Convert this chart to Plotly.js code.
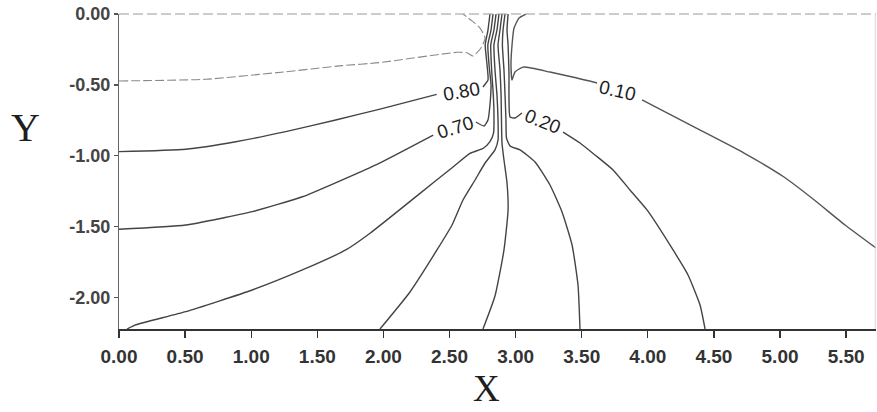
<!DOCTYPE html>
<html>
<head>
<meta charset="utf-8">
<script src="https://cdn.plot.ly/plotly-3.0.1.min.js"></script>
<style>
  html, body { margin: 0; padding: 0; background: #ffffff; }
  #chart { width: 877px; height: 412px; }
</style>
</head>
<body>
<div id="chart"></div>
<script>
// ---- contour levels ----
const levels = [0.9, 0.8, 0.7, 0.6, 0.5, 0.4, 0.3, 0.2, 0.1];

// each contour traced as x / y points (null = gap where the label sits)
const c90x = [0, 0.656, 1.261, 1.687, 1.967, 2.557, 2.632, 2.678, 2.738, 2.769, 2.731, 2.670, 2.602];
const c90y = [-0.472, -0.460, -0.407, -0.364, -0.343, -0.270, -0.273, -0.296, -0.240, -0.169, -0.099, -0.049, 0];

const c80x = [0, 0.505, 0.883, 1.261, 1.639, 1.967, 2.403, null, 2.753, 2.791, 2.784, 2.770, 2.791, 2.806];
const c80y = [-0.970, -0.953, -0.900, -0.829, -0.747, -0.672, -0.566, null, -0.514, -0.465, -0.359, -0.218, -0.113, 0];

const c70x = [0, 0.505, 1.008, 1.387, 1.715, 1.967, 2.377, null, 2.700, 2.761, 2.791, 2.806, 2.814, 2.799, 2.790, 2.814, 2.829];
const c70y = [-1.517, -1.487, -1.393, -1.288, -1.158, -1.052, -0.853, null, -0.761, -0.789, -0.747, -0.641, -0.500, -0.359, -0.218, -0.113, 0];

const c60x = [0.061, 0.121, 0.505, 1.008, 1.387, 1.715, 1.899, 2.277, 2.529, 2.655, 2.756, 2.806, 2.833, 2.836, 2.829, 2.821, 2.812, 2.836, 2.852];
const c60y = [-2.220, -2.192, -2.098, -1.945, -1.804, -1.663, -1.545, -1.264, -1.076, -0.982, -0.946, -0.900, -0.839, -0.677, -0.536, -0.430, -0.218, -0.113, 0];

const c50x = [1.974, 2.201, 2.405, 2.519, 2.602, 2.693, 2.769, 2.844, 2.867, 2.867, 2.859, 2.844, 2.836, 2.859, 2.874];
const c50y = [-2.220, -1.959, -1.663, -1.487, -1.311, -1.170, -1.050, -0.958, -0.888, -0.747, -0.571, -0.395, -0.218, -0.113, 0];

const c40x = [2.753, 2.844, 2.912, 2.943, 2.935, 2.912, 2.897, 2.893, 2.890, 2.882, 2.867, 2.882, 2.897];
const c40y = [-2.220, -1.987, -1.663, -1.381, -1.191, -1.029, -0.909, -0.747, -0.571, -0.395, -0.218, -0.113, 0];

const c30x = [3.487, 3.472, 3.427, 3.351, 3.260, 3.147, 3.033, 2.958, 2.931, 2.927, 2.920, 2.912, 2.900, 2.905, 2.920];
const c30y = [-2.220, -1.910, -1.628, -1.395, -1.205, -1.043, -0.958, -0.930, -0.874, -0.747, -0.571, -0.395, -0.218, -0.113, 0];

const c20x = [4.433, 4.395, 4.304, 4.191, 3.994, 3.865, 3.737, 3.601, 3.487, 3.359, null, 3.048, 2.995, 2.958, 2.950, 2.950, 2.943, 2.935, 2.943];
const c20y = [-2.220, -2.051, -1.839, -1.663, -1.381, -1.240, -1.099, -0.994, -0.909, -0.832, null, -0.698, -0.733, -0.726, -0.606, -0.430, -0.218, -0.113, 0];

const c10x = [5.726, 5.492, 5.250, 5.030, 4.728, 4.349, 3.956, null, 3.616, 3.464, 3.260, 3.056, 2.995, 2.973, 2.965, 2.973, 2.988, 3.026, 3.079];
const c10y = [-1.649, -1.487, -1.304, -1.149, -0.980, -0.796, -0.606, null, -0.486, -0.451, -0.409, -0.374, -0.409, -0.465, -0.359, -0.218, -0.099, -0.028, 0];

const contourX = [c90x, c80x, c70x, c60x, c50x, c40x, c30x, c20x, c10x];
const contourY = [c90y, c80y, c70y, c60y, c50y, c40y, c30y, c20y, c10y];

// labelled contours
const labelLevels = [0.8, 0.7, 0.2, 0.1];

// axes
const xTicks = [0, 0.5, 1, 1.5, 2, 2.5, 3, 3.5, 4, 4.5, 5, 5.5];
const xTickText = ['0.00', '0.50', '1.00', '1.50', '2.00', '2.50', '3.00', '3.50', '4.00', '4.50', '5.00', '5.50'];
const yTicks = [0, -0.5, -1, -1.5, -2];
const yTickText = ['0.00', '-0.50', '-1.00', '-1.50', '-2.00'];
const xRange = [0, 5.726];
const yRange = [-2.22, 0];

// ---- build traces ----
const traces = levels.map((lv, i) => ({
  type: 'scatter',
  mode: 'lines',
  name: lv.toFixed(2),
  x: contourX[i],
  y: contourY[i],
  connectgaps: false,
  line: {
    color: lv === 0.9 ? '#8a8a8a' : (lv === 0.1 ? '#555555' : '#444444'),
    width: lv === 0.9 ? 1.1 : 1.4,
    dash: lv === 0.9 ? '9px,3px' : 'solid',
    shape: 'spline',
    smoothing: 0.5
  },
  hoverinfo: 'skip',
  showlegend: false
}));

// label placement (position / angle per labelled level)
const labelPlace = {
  0.8: {x: 2.587, y: -0.543, a: -10},
  0.7: {x: 2.542, y: -0.803, a: -17},
  0.2: {x: 3.207, y: -0.761, a: 22},
  0.1: {x: 3.767, y: -0.536, a: 13}
};
const annotations = labelLevels.map(lv => ({
  x: labelPlace[lv].x, y: labelPlace[lv].y, xref: 'x', yref: 'y',
  text: lv.toFixed(2), showarrow: false, textangle: labelPlace[lv].a,
  font: {family: 'Liberation Sans, Arial, sans-serif', size: 19, color: '#1e1e1e'}
}));
annotations.push({
  xref: 'paper', yref: 'paper', x: (486 - 119) / 757, y: -(410 - 329) / 315,
  text: 'X', showarrow: false, xanchor: 'center', yanchor: 'bottom', borderpad: 0,
  font: {family: 'Liberation Serif, Times New Roman, serif', size: 37, color: '#1e1e1e'}
});
annotations.push({
  xref: 'paper', yref: 'paper', x: (25 - 119) / 757, y: 1 - (127 - 14) / 315,
  text: 'Y', showarrow: false, xanchor: 'center', yanchor: 'middle',
  font: {family: 'Liberation Serif, Times New Roman, serif', size: 40, color: '#1e1e1e'}
});

const layout = {
  width: 877, height: 412,
  margin: {l: 119, r: 1, t: 14, b: 83, pad: 0},
  paper_bgcolor: '#ffffff', plot_bgcolor: '#ffffff',
  showlegend: false,
  xaxis: {
    range: xRange, tickvals: xTicks, ticktext: xTickText,
    showgrid: false, zeroline: false,
    showline: true, linecolor: '#333333', linewidth: 1.5,
    ticks: 'outside', ticklen: 7, tickwidth: 1.3, tickcolor: '#333333',
    ticklabelstandoff: 3,
    tickfont: {family: 'Liberation Sans, Arial, sans-serif', size: 19, color: '#333333', weight: 'bold'},
    fixedrange: true
  },
  yaxis: {
    range: yRange, tickvals: yTicks, ticktext: yTickText,
    showgrid: false, zeroline: false,
    showline: true, linecolor: '#666666', linewidth: 1.2,
    ticks: 'outside', ticklen: 4, tickwidth: 1.2, tickcolor: '#555555',
    tickfont: {family: 'Liberation Sans, Arial, sans-serif', size: 18, color: '#444444', weight: 'bold'},
    fixedrange: true
  },
  shapes: [
    {type: 'line', xref: 'paper', yref: 'paper', x0: 0, x1: 1, y0: 1, y1: 1,
     line: {color: '#9a9a9a', width: 1.2, dash: '10px,4px'}},
    {type: 'line', xref: 'paper', yref: 'paper', x0: 0.999, x1: 0.999, y0: 0, y1: 1,
     line: {color: '#d8d8d8', width: 1}}
  ],
  annotations: annotations
};

Plotly.newPlot('chart', traces, layout, {displayModeBar: false, staticPlot: true});
</script>
</body>
</html>
